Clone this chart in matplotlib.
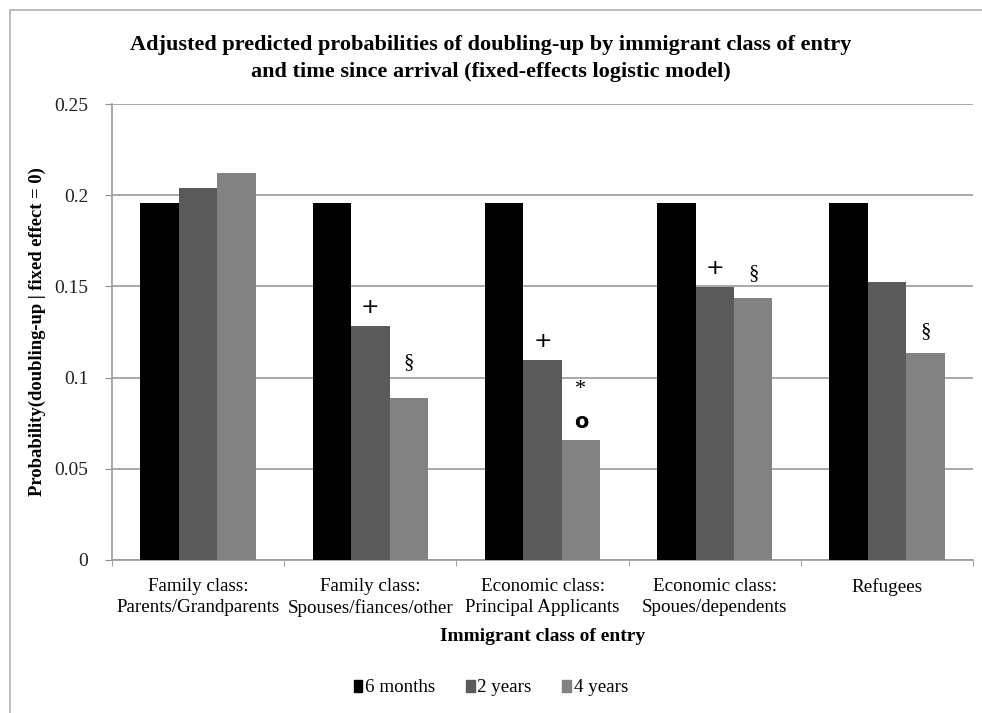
import numpy as np
import matplotlib
matplotlib.use("Agg")
import matplotlib.pyplot as plt
from matplotlib.patches import Rectangle, Patch

plt.rcParams['font.family'] = ['Liberation Serif', 'DejaVu Serif']

categories = ["Family class:\nParents/Grandparents",
              "Family class:\nSpouses/fiances/other",
              "Economic class:\nPrincipal Applicants",
              "Economic class:\nSpoues/dependents",
              "Refugees"]
series_names = ["6 months", "2 years", "4 years"]
six_months = [0.1955, 0.1955, 0.1955, 0.1955, 0.1955]
two_years = [0.2041, 0.1283, 0.1096, 0.1495, 0.1522]
four_years = [0.2123, 0.0886, 0.0658, 0.1434, 0.1133]
colors = ["#000000", "#5a5a5a", "#828282"]

# significance marks: (category index, series index, symbol)
marks = [(1, 1, "+"), (1, 2, "§"), (2, 1, "+"), (2, 2, "*"), (2, 2, "o"),
         (3, 1, "+"), (3, 2, "§"), (4, 2, "§")]
mark_offsets = [14, 26, 14, 36, 13, 14, 18, 16]

fig = plt.figure(figsize=(9.82, 7.13), dpi=100)
ax = fig.add_axes([0.114, 0.2146, 0.877, 0.6394])

# outer chart border
fig.patches.append(Rectangle((10 / 982, -0.01), 1.0, 1 - 10 / 713 + 0.01,
                             transform=fig.transFigure, fill=False,
                             edgecolor="#b0b0b0", linewidth=1.2))

values = [six_months, two_years, four_years]
x = np.arange(len(categories))
width = 0.223
for i, vals in enumerate(values):
    ax.bar(x + (i - 1) * width, vals, width, color=colors[i], zorder=3,
           label=series_names[i])

for (ci, si, sym), off in zip(marks, mark_offsets):
    h = values[si][ci]
    ax.annotate(sym, (x[ci] + (si - 1) * width, h), xytext=(0, off),
                textcoords="offset points", ha="center", va="center",
                fontsize=16 if sym in "+*" else 15,
                fontfamily="DejaVu Sans" if sym in "+o" else None,
                fontweight="bold" if sym == "o" else "normal",
                zorder=5)

ax.set_xlim(-0.5, len(categories) - 0.5)
ax.set_ylim(0, 0.25)
ax.set_yticks([0, 0.05, 0.1, 0.15, 0.2, 0.25])
ax.set_yticklabels(["0", "0.05", "0.1", "0.15", "0.2", "0.25"])
ax.set_xticks(x)
ax.set_xticklabels(categories, fontsize=13.7, linespacing=1.3)
ax.set_xticks(np.arange(-0.5, len(categories)), minor=True)
ax.tick_params(axis="x", which="major", length=0, pad=13)
ax.tick_params(axis="x", which="minor", length=4, color="#909090")
ax.tick_params(axis="y", length=5, color="#909090", labelsize=14, pad=12,
               labelcolor="#222222")
ax.grid(axis="y", color="#9a9a9a", linewidth=1.2, zorder=0)

for s in ["top", "right"]:
    ax.spines[s].set_visible(False)
for s in ["left", "bottom"]:
    ax.spines[s].set_color("#9a9a9a")
    ax.spines[s].set_linewidth(1.2)

ax.set_ylabel("Probability(doubling-up | fixed effect = 0)", fontsize=13.4,
              fontweight="bold", labelpad=6)
ax.set_xlabel("Immigrant class of entry", fontsize=14, fontweight="bold",
              labelpad=8)

fig.text(0.5, 1 - 45 / 713,
         "Adjusted predicted probabilities of doubling-up by immigrant class of entry",
         ha="center", va="center", fontsize=16, fontweight="bold")
fig.text(0.5, 1 - 72 / 713,
         "and time since arrival (fixed-effects logistic model)",
         ha="center", va="center", fontsize=16, fontweight="bold")

handles = [Patch(color=c) for c in colors]
fig.legend(handles, series_names, loc="center", bbox_to_anchor=(0.5, 1 - 688 / 713),
           ncol=3, frameon=False, fontsize=13.7, handlelength=0.45,
           handleheight=0.55, handletextpad=0.15, columnspacing=1.6)

fig.savefig("out.png", dpi=100)
